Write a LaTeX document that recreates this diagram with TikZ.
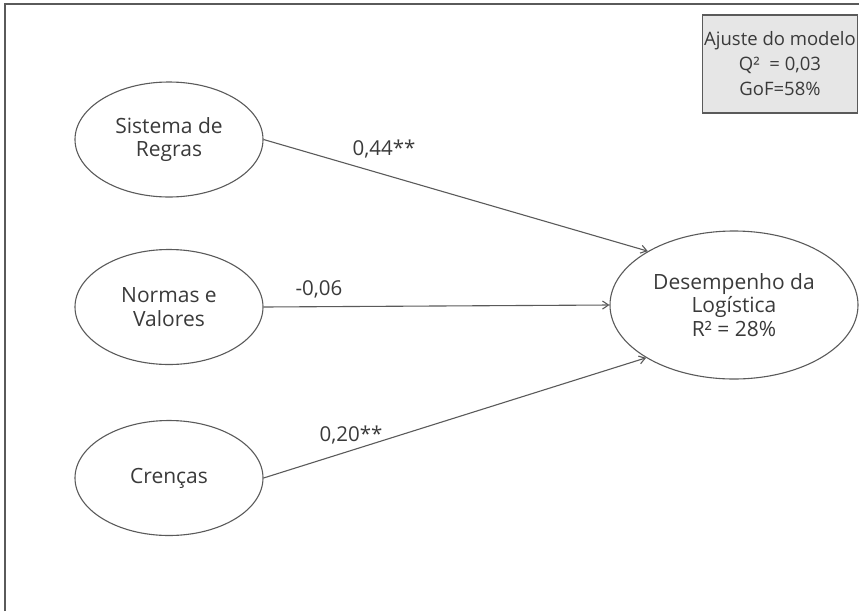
\documentclass[tikz,border=0pt]{standalone}
\usepackage{fontspec}
\setmainfont{Open Sans}
\usetikzlibrary{arrows.meta,shapes.geometric}
\definecolor{linegray}{HTML}{5A5A5A}
\definecolor{txtgray}{HTML}{3A3A3A}
\definecolor{boxfill}{HTML}{E6E6E6}
\tikzset{
  latent/.style={ellipse, draw=linegray, line width=1.1pt, inner sep=0pt,
    minimum width=188pt, minimum height=115pt, align=center,
    text=txtgray, font=\fontsize{21}{23.5}\selectfont},
  target/.style={latent, minimum width=248pt, minimum height=148pt},
  path/.style={draw=linegray, line width=1.1pt, -{Straight Barb[length=6pt,width=8pt]}},
  lbl/.style={text=txtgray, font=\fontsize{20.5}{23}\selectfont, inner sep=0pt, anchor=base},
  fitbox/.style={draw=linegray, line width=1.4pt, fill=boxfill, inner sep=0pt,
    minimum width=155pt, minimum height=98pt, align=center, text=txtgray,
    font=\fontsize{18.5}{25}\selectfont}
}
\begin{document}
\begin{tikzpicture}[x=1pt,y=-1pt]
\useasboundingbox (0,0) rectangle (859,611);
% frame (left and top edges)
\draw[linegray, line width=2pt] (5,611) -- (5,4) -- (859,4);
% fit box
\node[fitbox] (fit) at (780,64) {Ajuste do modelo\\Q²\ \ = 0,03\\GoF=58\%};
% latent variables
\node[latent] (sr) at (169,139.5) {Sistema de\\Regras};
\node[latent] (nv) at (169,307) {Normas e\\Valores};
\node[latent] (cr) at (169,478) {Crenças};
\node[target] (dl) at (734,305) {Desempenho da\\Logística\\R² = 28\%};
% paths
\draw[path] (sr.east) -- (dl.148.4);
\draw[path] (nv.east) -- (dl.west);
\draw[path] (cr.east) -- (dl.211.6);
% path coefficients
\node[lbl] (c1) at (384,155) {0,44**};
\node[lbl] (c2) at (319,295) {-0,06};
\node[lbl] (c3) at (351,441) {0,20**};
\end{tikzpicture}
\end{document}
